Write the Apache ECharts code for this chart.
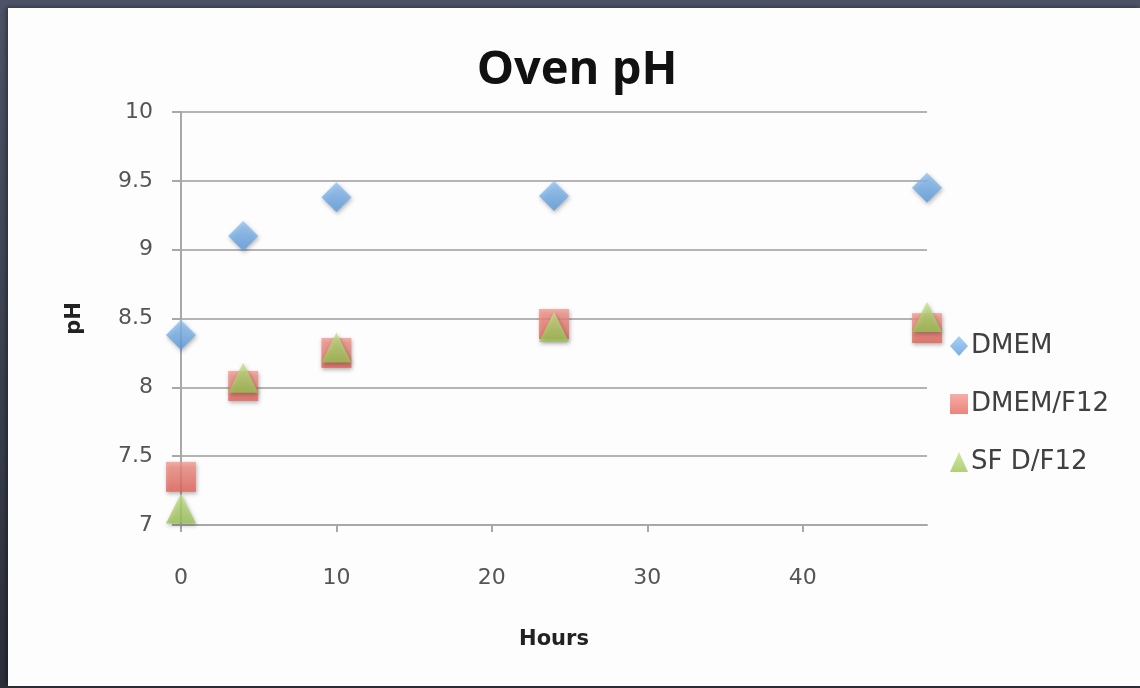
<!DOCTYPE html>
<html>
<head>
<meta charset="utf-8">
<script src="https://cdn.jsdelivr.net/npm/echarts@6/dist/echarts.min.js"></script>
<style>
  html, body { margin: 0; padding: 0; }
  body { width: 1140px; height: 688px; overflow: hidden; position: relative;
         background: linear-gradient(180deg, #4d5366 0%, #2b2f3a 100%); }
  #panel { position: absolute; left: 8px; top: 8px; width: 1132px; height: 678px;
           background: #fdfdfd; box-shadow: -2px -1px 4px rgba(0,0,0,0.35); }
  #chart { position: absolute; left: 0; top: 0; width: 1140px; height: 688px; }
</style>
</head>
<body>
<div id="panel"></div>
<div id="chart"></div>
<script>
const hours = [0, 4, 10, 24, 48];
const dmem = [8.38, 9.10, 9.38, 9.39, 9.45];
const dmemF12 = [7.35, 8.01, 8.25, 8.46, 8.43];
const sfDF12 = [7.12, 8.07, 8.29, 8.44, 8.51];
const seriesNames = ['DMEM', 'DMEM/F12', 'SF D/F12'];
const xTicks = [0, 10, 20, 30, 40];
const yTicks = [7, 7.5, 8, 8.5, 9, 9.5, 10];

const pairs = (xs, ys) => xs.map((x, i) => [x, ys[i]]);
const grad = (a, b) => new echarts.graphic.LinearGradient(0, 0, 0, 1, [
  { offset: 0, color: a }, { offset: 1, color: b }]);
const shadow = { shadowBlur: 4, shadowColor: 'rgba(0,0,0,0.35)', shadowOffsetX: 1, shadowOffsetY: 2 };

const chart = echarts.init(document.getElementById('chart'), null, { renderer: 'canvas' });
const font = 'DejaVu Sans';
chart.setOption({
  backgroundColor: 'transparent',
  animation: false,
  title: {
    text: 'Oven pH', left: 572, top: 42, textAlign: 'center',
    textStyle: { fontFamily: 'Open Sans', fontWeight: 'bold', fontSize: 47, color: '#111' }
  },
  grid: { left: 181, right: 213, top: 112, bottom: 163, outerBoundsMode: 'none' },
  legend: {
    orient: 'vertical', left: 945, top: 328, itemGap: 32,
    itemWidth: 18, itemHeight: 20,
    textStyle: { fontFamily: font, fontSize: 26, color: '#404040', padding: [0, 0, 0, -2] },
    data: seriesNames
  },
  xAxis: {
    type: 'value', min: 0, max: 48,
    name: 'Hours', nameLocation: 'middle', nameGap: 104,
    nameTextStyle: { fontFamily: font, fontWeight: 'bold', fontSize: 21, color: '#222' },
    axisLine: { show: true, lineStyle: { color: '#a8a8a8', width: 2 } },
    axisTick: { show: true, customValues: xTicks, length: 7, lineStyle: { color: '#a8a8a8', width: 2 } },
    axisLabel: { customValues: xTicks, margin: 42, fontFamily: font, fontSize: 22, color: '#555' },
    splitLine: { show: false }
  },
  yAxis: {
    type: 'value', min: 7, max: 10, interval: 0.5,
    name: 'pH', nameLocation: 'middle', nameGap: 96, nameRotate: 90,
    nameTextStyle: { fontFamily: font, fontWeight: 'bold', fontSize: 21, color: '#222' },
    axisLine: { show: true, lineStyle: { color: '#a8a8a8', width: 2 } },
    axisTick: { show: true, length: 9, lineStyle: { color: '#a8a8a8', width: 2 } },
    axisLabel: { customValues: yTicks, margin: 28, fontFamily: font, fontSize: 22, color: '#555' },
    splitLine: { show: true, lineStyle: { color: '#b4b4b4', width: 2 } }
  },
  series: [
    { name: seriesNames[0], type: 'scatter', symbol: 'diamond', symbolSize: 30,
      itemStyle: Object.assign({ color: grad('#94c4f2', '#5b9be0') }, shadow),
      data: pairs(hours, dmem) },
    { name: seriesNames[1], type: 'scatter', symbol: 'rect', symbolSize: 30,
      itemStyle: Object.assign({ color: grad('#f49a90', '#e4645a') }, shadow),
      data: pairs(hours, dmemF12) },
    { name: seriesNames[2], type: 'scatter', symbol: 'triangle', symbolSize: 30,
      itemStyle: Object.assign({ color: grad('#c6e08a', '#9cc454') }, shadow),
      data: pairs(hours, sfDF12) }
  ]
});
</script>
</body>
</html>
